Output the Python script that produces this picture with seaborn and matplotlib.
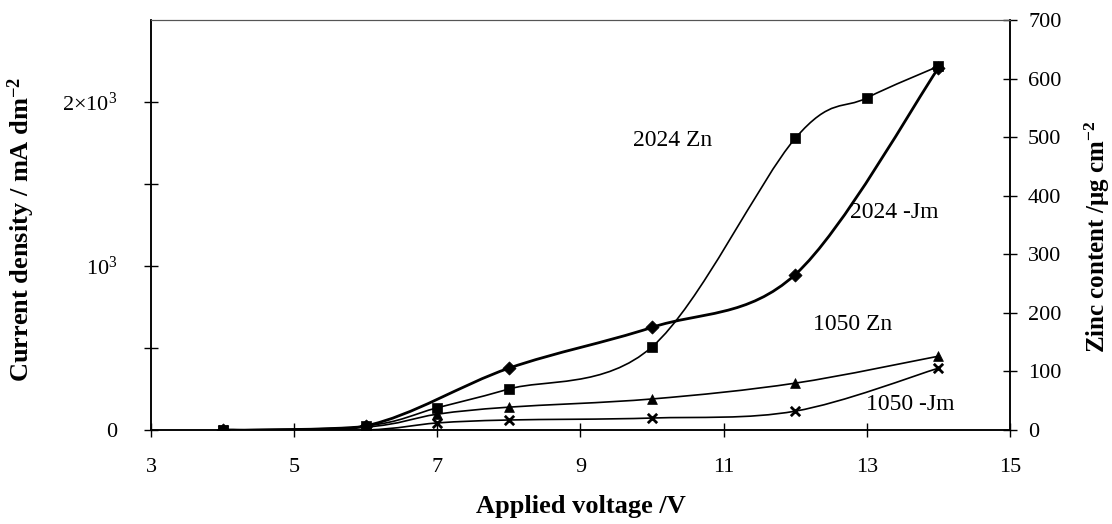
import numpy as np
import pandas as pd
import matplotlib
matplotlib.use("Agg")
import matplotlib.pyplot as plt
from matplotlib.path import Path
from matplotlib.patches import PathPatch
from matplotlib.ticker import FixedLocator, FixedFormatter
import seaborn as sns

# ---- data ----
volt_2024_jm = [4, 6, 8, 10, 12, 14]
jm_2024 = [0, 25, 377, 626, 948, 2207]          # mA dm^-2 (left axis)

volt_2024_zn = [4, 6, 7, 8, 10, 12, 13, 14]
zn_2024 = [0, 7, 38, 70, 142, 498, 567, 621]    # ug cm^-2 (right axis)

volt_1050_zn = [4, 6, 7, 8, 10, 12, 14]
zn_1050 = [0, 5, 27, 39, 53, 80, 126]           # ug cm^-2 (right axis)

volt_1050_jm = [4, 6, 7, 8, 10, 12, 14]
jm_1050 = [0, 0, 43, 61, 73, 115, 377]          # mA dm^-2 (left axis)

x_ticks = [3, 5, 7, 9, 11, 13, 15]
left_ticks = [0, 1000, 2000]
left_tick_labels = ["0", "$10^3$", "$2{\\times}10^3$"]
left_minor = [500, 1500]
right_ticks = [0, 100, 200, 300, 400, 500, 600, 700]

series_labels = ["2024 Zn", "2024 -Jm", "1050 Zn", "1050 -Jm"]

sns.set_theme(style="white")
plt.rcParams["font.family"] = ["Liberation Serif", "DejaVu Serif"]
plt.rcParams["mathtext.fontset"] = "custom"
plt.rcParams["mathtext.rm"] = "Liberation Serif"
plt.rcParams["mathtext.bf"] = "Liberation Serif:bold"
plt.rcParams["mathtext.it"] = "Liberation Serif:italic"

fig = plt.figure(figsize=(11.12, 5.24), dpi=100)
ax = fig.add_axes([151 / 1112, 1 - 430 / 524, (1010 - 151) / 1112, (430 - 20) / 524])
ax2 = ax.twinx()


def smooth_patch(xs, ys, lw):
    pts = np.column_stack([xs, ys]).astype(float)
    n = len(pts)
    verts = [pts[0]]
    codes = [Path.MOVETO]
    for i in range(n - 1):
        p0 = pts[i - 1] if i > 0 else pts[i]
        p1 = pts[i]
        p2 = pts[i + 1]
        p3 = pts[i + 2] if i + 2 < n else pts[i + 1]
        c1 = p1 + (p2 - p0) / 6.0
        c2 = p2 - (p3 - p1) / 6.0
        verts += [c1, c2, p2]
        codes += [Path.CURVE4] * 3
    return PathPatch(Path(verts, codes), facecolor="none", edgecolor="black",
                     lw=lw, capstyle="round", joinstyle="round")


ax.add_patch(smooth_patch(volt_2024_jm, jm_2024, 2.0))
ax.add_patch(smooth_patch(volt_1050_jm, jm_1050, 1.2))
ax2.add_patch(smooth_patch(volt_2024_zn, zn_2024, 1.2))
ax2.add_patch(smooth_patch(volt_1050_zn, zn_1050, 1.2))

df_2024_jm = pd.DataFrame({"V": volt_2024_jm, "y": jm_2024})
df_1050_jm = pd.DataFrame({"V": volt_1050_jm, "y": jm_1050})
df_2024_zn = pd.DataFrame({"V": volt_2024_zn, "y": zn_2024})
df_1050_zn = pd.DataFrame({"V": volt_1050_zn, "y": zn_1050})

sns.scatterplot(data=df_2024_jm, x="V", y="y", ax=ax, marker="D", s=45,
                color="black", edgecolor="black", linewidth=0.5, zorder=5)
sns.scatterplot(data=df_1050_jm, x="V", y="y", ax=ax, marker="x", s=45,
                color="black", linewidth=2.0, zorder=5)
sns.scatterplot(data=df_2024_zn, x="V", y="y", ax=ax2, marker="s", s=45,
                color="black", edgecolor="black", linewidth=0.5, zorder=5)
sns.scatterplot(data=df_1050_zn, x="V", y="y", ax=ax2, marker="^", s=50,
                color="black", edgecolor="black", linewidth=0.5, zorder=5)

ax.set_xlim(3, 15)
ax.set_ylim(0, 2500)
ax2.set_ylim(0, 700)

ax.xaxis.set_major_locator(FixedLocator(x_ticks))
ax.set_xticklabels([str(v) for v in x_ticks])
ax.yaxis.set_major_locator(FixedLocator(left_ticks))
ax.yaxis.set_major_formatter(FixedFormatter(left_tick_labels))
ax.yaxis.set_minor_locator(FixedLocator(left_minor))
ax2.yaxis.set_major_locator(FixedLocator(right_ticks))
ax2.set_yticklabels([str(v) for v in right_ticks])

for a in (ax, ax2):
    for s in a.spines.values():
        s.set_color("black")
        s.set_linewidth(1.1)
    a.spines["top"].set_linewidth(0.8)
    a.spines["top"].set_color("#555555")

ax.tick_params(axis="x", which="major", direction="inout", length=10, width=1,
               color="black", labelsize=16, pad=15, bottom=True, labelcolor="black")
ax.tick_params(axis="y", which="both", direction="inout", length=10, width=1,
               color="black", labelsize=16, pad=19, left=True, labelcolor="black")
ax2.tick_params(axis="y", which="major", direction="inout", length=10, width=1,
                color="black", labelsize=16, pad=8, right=True, labelcolor="black")

ax.set_xlabel("Applied voltage /V", fontsize=19, fontweight="bold", color="black")
ax.xaxis.set_label_coords(0.5, -0.158)
ax.set_ylabel("Current density / mA dm$^{\\mathbf{-2}}$", fontsize=19,
              fontweight="bold", color="black")
ax.yaxis.set_label_coords(-0.133, 0.49)
ax2.set_ylabel("Zinc content /\u03bcg cm$^{\\mathbf{-2}}$", fontsize=18,
               fontweight="bold", color="black", rotation=90)
ax2.yaxis.set_label_coords(1.085, 0.47)

label_px = [(673, 141), (894, 212), (853, 324), (910, 405)]
for txt, (px, py) in zip(series_labels, label_px):
    fx = (px - 151) / (1010 - 151)
    fy = (430 - py) / (430 - 20)
    ax.text(fx, fy, txt, fontsize=17, ha="center", va="center",
            transform=ax.transAxes, color="black")

fig.savefig("out.png", dpi=100)
